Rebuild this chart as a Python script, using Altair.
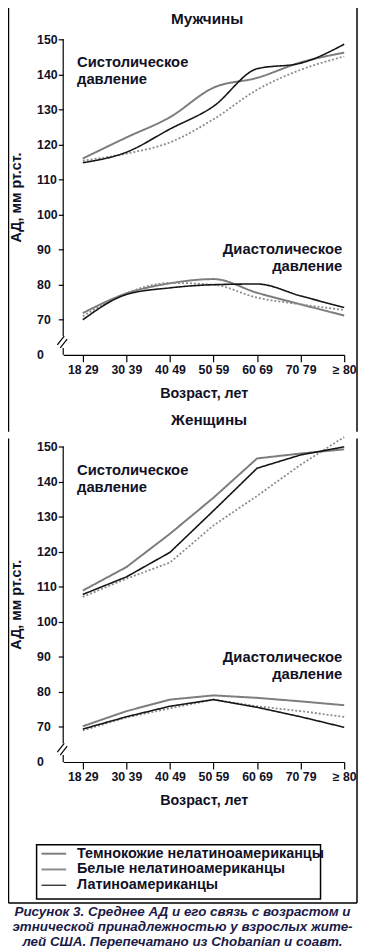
import json
import altair as alt
import pandas as pd

# ---------------- data ----------------
ages = ["18 29", "30 39", "40 49", "50 59", "60 69", "70 79", "≥ 80"]
groups = ["Темнокожие нелатиноамериканцы", "Белые нелатиноамериканцы", "Латиноамериканцы"]

# Men (Мужчины)
men_sys_black = [116.0, 122.0, 127.8, 136.2, 139.0, 143.4, 146.2]
men_sys_white = [115.4, 117.4, 120.6, 127.2, 135.6, 141.3, 145.1]
men_sys_hisp = [114.8, 117.8, 124.4, 130.9, 141.6, 143.2, 148.6]
men_dia_black = [71.9, 77.5, 80.4, 81.6, 77.7, 74.4, 71.2]
men_dia_white = [71.0, 77.6, 80.5, 80.0, 76.3, 74.4, 72.8]
men_dia_hisp = [70.0, 77.2, 79.1, 80.0, 80.2, 76.8, 73.5]

# Women (Женщины)
women_sys_black = [108.9, 115.6, 125.1, 135.4, 146.6, 148.0, 149.2]
women_sys_white = [107.1, 112.3, 116.9, 127.5, 135.9, 144.8, 152.7]
women_sys_hisp = [107.8, 112.8, 119.8, 131.7, 143.8, 147.6, 149.9]
women_dia_black = [70.2, 74.5, 77.8, 79.0, 78.3, 77.3, 76.2]
women_dia_white = [69.0, 72.7, 75.3, 77.8, 75.9, 74.5, 72.9]
women_dia_hisp = [69.4, 72.9, 75.9, 77.8, 75.6, 72.9, 69.9]

y_ticks = [60, 70, 80, 90, 100, 110, 120, 130, 140, 150]

caption_lines = [
    "Рисунок 3. Среднее АД и его связь с возрастом и",
    "этнической принадлежностью у взрослых жите-",
    "лей США. Перепечатано из Chobanian и соавт.",
]


def build(series):
    rows = []
    for kind, per_group in series.items():
        for g, vals in zip(groups, per_group):
            for i, v in enumerate(vals):
                rows.append({"i": i, "age": ages[i], "group": g, "kind": kind, "v": v})
    return pd.DataFrame(rows)


men_df = build({"sys": [men_sys_black, men_sys_white, men_sys_hisp],
                "dia": [men_dia_black, men_dia_white, men_dia_hisp]})
women_df = build({"sys": [women_sys_black, women_sys_white, women_sys_hisp],
                  "dia": [women_dia_black, women_dia_white, women_dia_hisp]})

# ---------------- style ----------------
FONT = "Liberation Sans"
TXT = "#111126"
W, H = 285, 320
one = pd.DataFrame({"a": [0]})

line_colors = ["#7d7d7d", "#8c8c8c", "#151515"]
line_dash = [[1, 0], [2, 2], [1, 0]]
line_width = [2.0, 1.6, 1.2]

age_expr = json.dumps(ages, ensure_ascii=False) + "[datum.value]"


def text(t, x, y, align="left", size=15, style="normal", color=TXT):
    return alt.Chart(one).mark_text(
        text=t, align=align, baseline="middle", font=FONT, fontSize=size,
        fontWeight="bold", fontStyle=style, color=color
    ).encode(x=alt.value(x), y=alt.value(y))


def rule(x1, y1, x2, y2, w=1.2, color="black", opacity=1.0):
    return alt.Chart(one).mark_rule(color=color, strokeWidth=w, opacity=opacity).encode(
        x=alt.value(x1), y=alt.value(y1), x2=alt.value(x2), y2=alt.value(y2))


def panel(df, interp, sys_y, dia_y, frame_top, frame_bottom, extra):
    x = alt.X(
        "i:Q",
        scale=alt.Scale(domain=[-0.45, 6], nice=False, zero=False),
        axis=alt.Axis(
            values=list(range(7)), labelExpr=age_expr, labelFlush=False,
            labelOverlap=False, grid=False, tickSize=7, labelPadding=2,
            title="Возраст, лет", titlePadding=11,
        ),
    )
    y = alt.Y(
        "v:Q",
        scale=alt.Scale(domain=[60, 150], nice=False, zero=False),
        axis=alt.Axis(
            values=y_ticks, domain=False, grid=False, tickSize=5,
            labelAlign="left", labelPadding=22,
            labelExpr="datum.value == 60 ? '0' : datum.label",
            tickOpacity={"condition": {"test": "datum.value == 60", "value": 0}, "value": 1},
            title="АД, мм рт.ст.", titleX=-47, titleY=H / 2, titleBaseline="middle",
        ),
    )
    lines = alt.Chart(df).mark_line(interpolate=interp).encode(
        x=x, y=y,
        color=alt.Color("group:N", scale=alt.Scale(domain=groups, range=line_colors), legend=None),
        strokeDash=alt.StrokeDash("group:N", scale=alt.Scale(domain=groups, range=line_dash), legend=None),
        strokeWidth=alt.StrokeWidth("group:N", scale=alt.Scale(domain=groups, range=line_width), legend=None),
        detail="kind:N",
    )
    decor = [
        # y axis with break
        rule(0, 0, 0, 301),
        rule(0, 313, 0, 320),
        rule(-6, 310, 1, 301),
        rule(-3, 313, 4, 304),
        # frame sides
        rule(-55.5, frame_top, -55.5, frame_bottom, w=1.5),
        rule(298, frame_top, 298, frame_bottom, w=1.5),
        # annotations
        text("Систолическое", 14, sys_y),
        text("давление", 14, sys_y + 17),
        text("Диастолическое", 283, dia_y, align="right"),
        text("давление", 283, dia_y + 17, align="right"),
    ]
    return alt.layer(lines, *decor, *extra).properties(width=W, height=H)


# men panel extras: title, women title (placed in the gap), bound anchor
men_extra = [
    text("Мужчины", 146, -21, align="center", size=15.5),
    text("Женщины", 148, 386, align="center", size=15.5),
    rule(-62, -40, -62, 0, opacity=0),
]

# legend + caption (below the women panel)
women_extra = [
    alt.Chart(one).mark_rect(fill=None, stroke="black", strokeWidth=1.5).encode(
        x=alt.value(-27), x2=alt.value(261), y=alt.value(404), y2=alt.value(459)),
    rule(-22, 413, 3, 413, w=2.0, color=line_colors[0]),
    rule(-22, 429, 3, 429, w=2.0, color=line_colors[1]),
    rule(-22, 445, 3, 445, w=1.2, color=line_colors[2]),
    text(groups[0], 14, 413, size=14.6),
    text(groups[1], 14, 429, size=14.6),
    text(groups[2], 14, 445, size=14.6),
    rule(-55.5, 463, 298, 463, w=1.5),
    rule(-62, -8, -62, 0, opacity=0),
]
for k, line in enumerate(caption_lines):
    women_extra.append(text(line, 121, 472 + 15.5 * k, align="center", size=13.6,
                            style="italic", color="#1a1a48"))

p_men = panel(men_df, "monotone", 23, 213, -40, 398, men_extra)
p_women = panel(women_df, "linear", 24, 214, -8, 463, women_extra)

chart = alt.vconcat(p_men, p_women, spacing=0).properties(
    padding={"left": -6, "top": -16, "right": 0, "bottom": 0}
).configure_view(
    stroke=None
).configure_axis(
    labelFont=FONT, labelFontSize=12.5, labelFontWeight="bold", labelColor=TXT,
    titleFont=FONT, titleFontSize=14.5, titleFontWeight="bold", titleColor=TXT,
    domainColor="black", tickColor="black", domainWidth=1.2, tickWidth=1.2,
)

chart.save("out.html", embed_options={"renderer": "svg", "actions": False})
